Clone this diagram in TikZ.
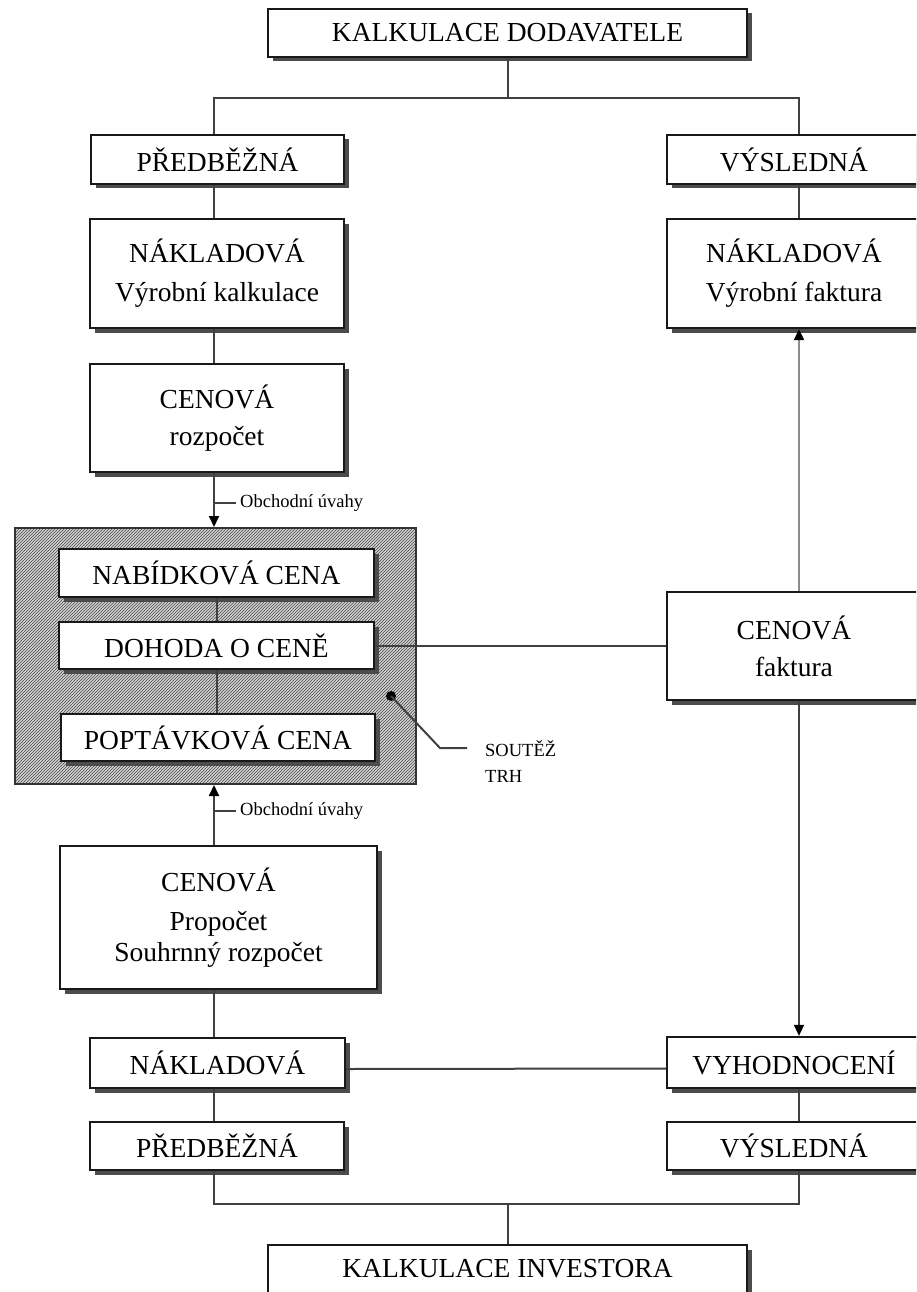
\documentclass[tikz,border=0pt]{standalone}
\usepackage{fontspec}
\setmainfont{Liberation Serif}
\usetikzlibrary{shadows,patterns,arrows.meta}
\tikzset{
  box/.style={draw=black!90, line width=2.3pt, fill=white,
    general shadow={fill=black!70, shadow xshift=4.5pt, shadow yshift=-4.5pt},
    inner sep=0pt, align=center, font=\fontsize{27.5}{39}\selectfont},
  conn/.style={draw=black!75, line width=2pt},
  arr/.style={conn, -{Triangle[length=11pt,width=10pt,color=black]}},
  small/.style={font=\fontsize{18.5}{22}\selectfont, inner sep=4pt},
  hatchbox/.style={draw=black!80, line width=2pt, preaction={fill=black!18},
    pattern=north east lines, pattern color=black!70}
}
\begin{document}
\begin{tikzpicture}[x=1pt,y=-1pt]
\useasboundingbox (0,0) rectangle (916,1292);
\clip (0,0) rectangle (916,1292);
\fill[white] (0,0) rectangle (916,1292);

\coordinate (L) at (214,0);
\coordinate (R) at (799,0);
\coordinate (top) at (0,98);
\coordinate (bot) at (0,1204);

% top part
\node[box, minimum width=479pt, minimum height=48pt] (kd) at (507.5,33) {KALKULACE DODAVATELE};
\node[box, minimum width=253pt, minimum height=49pt] (pl) at (217.5,159.5) {PŘEDBĚŽNÁ};
\node[box, minimum width=254pt, minimum height=49pt] (pr) at (794,159.5) {VÝSLEDNÁ};
\node[box, minimum width=254pt, minimum height=109pt] (nl) at (217,273.5) {NÁKLADOVÁ\\Výrobní kalkulace};
\node[box, minimum width=254pt, minimum height=109pt] (nr) at (794,273.5) {NÁKLADOVÁ\\Výrobní faktura};
\node[box, minimum width=254pt, minimum height=108pt] (cl) at (217,418) {CENOVÁ\\[-2pt]rozpočet};

% hatched market area
\node[hatchbox, minimum width=401pt, minimum height=256pt] (hb) at (215.5,656) {};
\node[box, minimum width=315pt, minimum height=48pt] (nab) at (216.5,573) {NABÍDKOVÁ CENA};
\node[box, minimum width=315pt, minimum height=47pt] (doh) at (216.5,645.5) {DOHODA O CENĚ};
\node[box, minimum width=314pt, minimum height=47pt] (pop) at (218,737.5) {POPTÁVKOVÁ CENA};
\node[circle, fill=black, inner sep=0pt, minimum size=10pt] (dot) at (391,696) {};
\node[small, anchor=base west, inner sep=0pt] (sout) at (485,756) {SOUTĚŽ};
\node[small, anchor=base west, inner sep=0pt] (trh) at (485,782) {TRH};
\coordinate (se) at (467,748);

\node[box, minimum width=254pt, minimum height=108pt] (cf) at (794,646) {CENOVÁ\\[-2pt]faktura};
\node[box, minimum width=317pt, minimum height=143pt] (cp) at (218.5,917.5) {CENOVÁ\\[0pt]Propočet\\[-8pt]Souhrnný rozpočet};

% bottom part
\node[box, minimum width=255pt, minimum height=50pt] (nb) at (217.5,1063) {NÁKLADOVÁ};
\node[box, minimum width=254pt, minimum height=51pt] (vy) at (794,1062.5) {VYHODNOCENÍ};
\node[box, minimum width=254pt, minimum height=48pt] (pb) at (217,1146) {PŘEDBĚŽNÁ};
\node[box, minimum width=254pt, minimum height=48pt] (vb) at (794,1146) {VÝSLEDNÁ};
\node[box, minimum width=479pt, minimum height=48pt] (ki) at (507.5,1269) {KALKULACE INVESTORA};

% labels
\node[small, anchor=west] (ou1) at (236,503) {Obchodní úvahy};
\node[small, anchor=west] (ou2) at (236,811) {Obchodní úvahy};

% connectors top
\draw[conn] (kd.south) -- (kd.south |- top);
\draw[conn] (pl.north -| L) -- (L |- top) -- (R |- top) -- (pr.north -| R);
\draw[conn] (pl.south -| L) -- (nl.north -| L);
\draw[conn] (nl.south -| L) -- (cl.north -| L);
\draw[conn] (pr.south -| R) -- (nr.north -| R);
\draw[arr] (cl.south -| L) -- (hb.north -| L);
\draw[conn] (ou1.west -| L) -- (ou1.west);

% inside hatched area
\draw[conn] (nab.south) -- (doh.north);
\draw[conn] (doh.south) -- (doh.south |- pop.north);
\draw[conn] (doh.east) -- (cf.west |- doh.east);
\draw[conn] (dot.center) -- (440,748) -- (se);

% right column arrows
\draw[conn, draw=black!45, -{Triangle[length=11pt,width=10pt,color=black]}] (cf.north -| R) -- (nr.south -| R);
\draw[arr, line width=1.6pt] (cf.south -| R) -- (vy.north -| R);

% lower left
\draw[arr] (cp.north -| L) -- (hb.south -| L);
\draw[conn] (ou2.west -| L) -- (ou2.west);
\draw[conn] (cp.south -| L) -- (nb.north -| L);
\draw[conn] ([yshift=-6pt]nb.east) -- ([yshift=-6pt]vy.west);
\draw[conn] (nb.south -| L) -- (pb.north -| L);
\draw[conn] (vy.south -| R) -- (vb.north -| R);

% bottom
\draw[conn] (pb.south -| L) -- (L |- bot) -- (R |- bot) -- (vb.south -| R);
\draw[conn] (ki.north) -- (ki.north |- bot);
\end{tikzpicture}
\end{document}
